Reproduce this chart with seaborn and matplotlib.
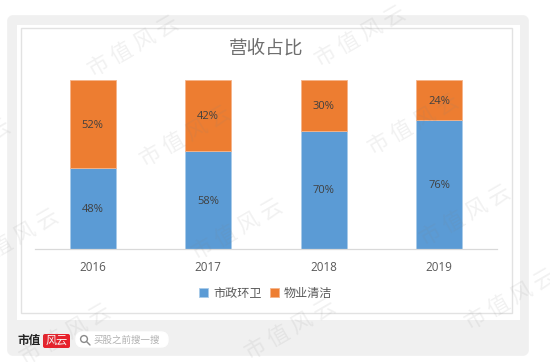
import matplotlib
matplotlib.use('Agg')
import matplotlib.pyplot as plt
from matplotlib.patches import FancyBboxPatch, Rectangle, Circle
import seaborn as sns

years = ['2016', '2017', '2018', '2019']
municipal = [48, 58, 70, 76]
cleaning = [52, 42, 30, 24]
total = [100, 100, 100, 100]
series_names = ['市政环卫', '物业清洁']
title_text = '营收占比'
watermark = '市 值 风 云'
search_text = '买股之前搜一搜'

W, H = 550, 362
BLUE = '#5B9BD5'
ORANGE = '#ED7D31'
CJK = ['Noto Sans CJK SC', 'DejaVu Sans']

sns.set_theme(style='white')
plt.rcParams['font.family'] = CJK

fig = plt.figure(figsize=(W / 100, H / 100), dpi=100, facecolor='white')

# background card, drawn in pixel coordinates
bg = fig.add_axes([0, 0, 1, 1], zorder=0)
bg.set_xlim(0, W)
bg.set_ylim(H, 0)
bg.axis('off')
bg.add_patch(FancyBboxPatch((12, 20), 512, 331, boxstyle='round,pad=0,rounding_size=1',
                            fc='#F0F0F0', ec='#F0F0F0', lw=7, joinstyle='round'))
bg.add_patch(Rectangle((17, 25), 503, 295, fc='white', ec='none'))
bg.add_patch(Rectangle((20.5, 27.5), 491, 285.5, fc='none', ec='#E2E2E2', lw=1))

# footer
bg.text(17, 340.5, '市值', fontsize=8.4, weight='bold', color='#222222', va='center', ha='left')
bg.add_patch(FancyBboxPatch((43, 334), 27, 14, boxstyle='round,pad=0,rounding_size=2',
                            fc='#E8202A', ec='none'))
bg.text(56.5, 340.5, '风云', fontsize=8, color='white', style='italic', va='center', ha='center')
bg.add_patch(FancyBboxPatch((76, 332), 92, 15, boxstyle='round,pad=0,rounding_size=7',
                            fc='white', ec='white', lw=1))
bg.add_patch(Circle((84, 339), 3.4, fc='none', ec='#8A8A8A', lw=1))
bg.plot([86.5, 90], [341.5, 345], color='#8A8A8A', lw=1)
bg.text(94, 340, search_text, fontsize=6.8, color='#B0B0B0', va='center', ha='left')

# chart
ax = fig.add_axes([35 / W, 1 - 248.5 / H, 462 / W, 168.5 / H], zorder=1)
ax.patch.set_alpha(0)
sns.barplot(x=years, y=municipal, color=BLUE, saturation=1, width=0.4, ax=ax,
            edgecolor='#A9CBEA', linewidth=0.6, label=series_names[0])
sns.barplot(x=years, y=cleaning, bottom=municipal, color=ORANGE, saturation=1, width=0.4, ax=ax,
            edgecolor='#F6B48A', linewidth=0.6, label=series_names[1])
ax.set_xlim(-0.5, 3.5)
ax.set_ylim(0, max(total))
ax.set_yticks([])
ax.set_xlabel('')
ax.set_ylabel('')
for s in ['top', 'left', 'right']:
    ax.spines[s].set_visible(False)
ax.spines['bottom'].set_color('#D9D9D9')
ax.spines['bottom'].set_linewidth(0.9)
ax.tick_params(axis='x', length=0, pad=9, labelsize=8.4, labelcolor='#595959')
for lab in ax.get_xticklabels():
    lab.set_family(['Open Sans', 'DejaVu Sans'])

for cont in ax.containers:
    labs = ax.bar_label(cont, fmt='%d%%', label_type='center', fontsize=8, color='#404040',
                        family=['Open Sans', 'DejaVu Sans'])
    for t in labs:
        t.set_y(t.get_position()[1] - 1)

ax.legend(loc='center', bbox_to_anchor=(266 / W, 1 - 293 / H), bbox_transform=fig.transFigure,
          ncol=2, frameon=False, fontsize=8.7, labelcolor='#595959', handlelength=0.75,
          handleheight=0.75, handletextpad=0.45, columnspacing=0.6, borderpad=0)

fig.text(266 / W, 1 - 49 / H, title_text, fontsize=13.4, color='#6E6E6E', ha='center', va='center', zorder=4)

# watermark stamps across the whole picture
stamp_xy = [(133, 47), (185, 137), (360, 37), (413, 125), (13, 240), (65, 335),
            (237, 230), (465, 216), (290, 330), (510, 300), (-35, 150)]
for sx, sy in stamp_xy:
    fig.text(sx / W, 1 - sy / H, watermark, fontsize=15.5, color='#808080', alpha=0.11,
             rotation=30, rotation_mode='anchor', ha='center', va='center', zorder=5)

fig.savefig('out.png', dpi=100)
